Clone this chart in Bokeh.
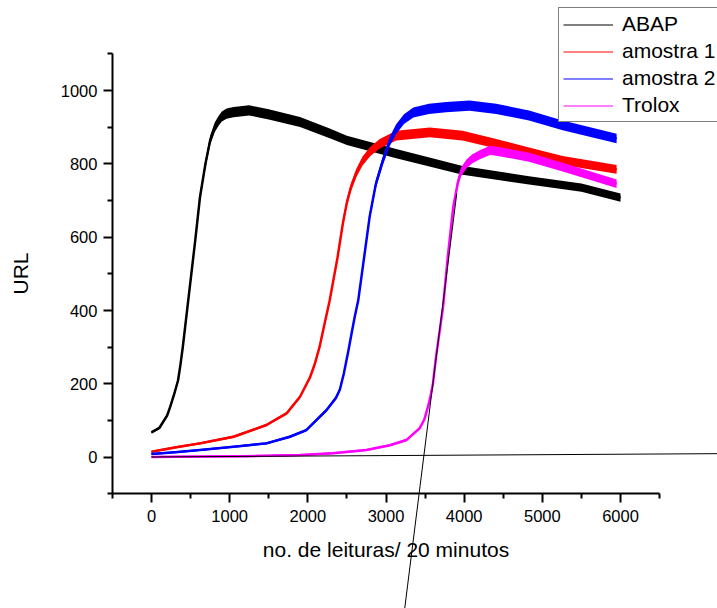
from bokeh.plotting import figure
from bokeh.models import ColumnDataSource, FixedTicker, Legend, LegendItem, Range1d
from bokeh.embed import file_html
from bokeh.resources import INLINE

# ---------------- data ----------------
abap_x = [0, 100, 200, 240, 290, 340, 370, 400, 470, 560, 620, 690, 750, 810, 860, 900, 960, 1050, 1250, 1500, 1900, 2280, 2500, 3130, 3980, 4830, 5500, 6000]
abap_y = [68, 80, 114, 138, 172, 210, 252, 300, 428, 592, 709, 800, 864, 900, 918, 929, 937, 941, 946, 935, 914, 883, 864, 828, 782, 755, 735, 708]

am1_x = [0, 300, 620, 1050, 1470, 1730, 1900, 2030, 2090, 2150, 2210, 2280, 2380, 2450, 2500, 2550, 2620, 2700, 2800, 2920, 3130, 3560, 3980, 4410, 4830, 5260, 5950]
am1_y = [15, 27, 38, 56, 88, 120, 165, 219, 255, 301, 360, 428, 545, 640, 695, 735, 775, 808, 834, 855, 877, 886, 877, 855, 832, 809, 785]

am2_x = [0, 300, 620, 1050, 1470, 1770, 1980, 2240, 2360, 2410, 2460, 2520, 2560, 2600, 2645, 2720, 2790, 2870, 2960, 3050, 3130, 3230, 3350, 3550, 3770, 4070, 4410, 4830, 5260, 5950]
am2_y = [9, 14, 20, 29, 38, 56, 74, 129, 162, 185, 228, 292, 338, 383, 428, 545, 655, 745, 809, 862, 895, 922, 940, 950, 955, 959, 950, 932, 905, 869]

trolox_x = [0, 600, 1200, 1900, 2320, 2750, 3050, 3260, 3430, 3490, 3540, 3570, 3600, 3640, 3730, 3790, 3860, 3920, 3960, 4030, 4100, 4200, 4330, 4410, 4830, 5260, 5950]
trolox_y = [1, 2, 3, 6, 11, 20, 33, 47, 79, 103, 140, 168, 200, 274, 410, 546, 682, 750, 778, 800, 813, 825, 837, 835, 818, 791, 746]

# tangent lines drawn on the chart
base_x = [0, 7300]
base_y = [1, 10]
tangent_x = [3240, 3905]
tangent_y = [-411, 719]

series_names = ["ABAP", "amostra 1", "amostra 2", "Trolox"]
series_colors = ["#000000", "#ff0000", "#0000ff", "#ff00ff"]

x_major = [0, 1000, 2000, 3000, 4000, 5000, 6000]
x_minor = [-500, 500, 1500, 2500, 3500, 4500, 5500, 6500]
y_major = [0, 200, 400, 600, 800, 1000]
y_minor = [-100, 100, 300, 500, 700, 900, 1100]

# ---------------- figure ----------------
W, H = 717, 608
p = figure(width=W, height=H, output_backend="svg", toolbar_location=None,
           x_range=Range1d(-1931.8, 7240.9), y_range=Range1d(-412.2, 1245.4),
           min_border=0, min_border_left=0, min_border_right=0,
           min_border_top=0, min_border_bottom=0)
p.outline_line_color = None
p.grid.visible = False
p.background_fill_color = "white"
p.border_fill_color = "white"

FONT = "Liberation Sans"

xa = p.xaxis[0]
xa.fixed_location = -100
xa.bounds = (-500, 6500)
xa.ticker = FixedTicker(ticks=x_major, minor_ticks=x_minor)
ya = p.yaxis[0]
ya.fixed_location = -500
ya.bounds = (-100, 1100)
ya.ticker = FixedTicker(ticks=y_major, minor_ticks=y_minor)

for ax in (xa, ya):
    ax.axis_line_width = 2
    ax.axis_line_color = "black"
    ax.major_tick_line_width = 2
    ax.minor_tick_line_width = 2
    ax.major_tick_line_color = "black"
    ax.minor_tick_line_color = "black"
    ax.major_tick_out = 9
    ax.major_tick_in = 0
    ax.minor_tick_out = 5
    ax.minor_tick_in = 0
    ax.major_label_text_font = FONT
    ax.major_label_text_font_size = "16.5px"
    ax.major_label_text_color = "black"
    ax.axis_label_text_font = FONT
    ax.axis_label_text_font_size = "21px"
    ax.axis_label_text_font_style = "normal"
    ax.axis_label_text_color = "black"

xa.axis_label = "no. de leituras/ 20 minutos"
xa.major_label_standoff = 7
xa.axis_label_standoff = 13
ya.axis_label = "URL"
ya.major_label_standoff = 6
ya.axis_label_standoff = 26

# ---------------- curves ----------------
NOISE_MIN = 2.5
NOISE_FRAC = 0.012

data = [(abap_x, abap_y), (am1_x, am1_y), (am2_x, am2_y), (trolox_x, trolox_y)]
legend_items = []
for (xs, ys), name, col in zip(data, series_names, series_colors):
    amp = [NOISE_MIN + NOISE_FRAC * v for v in ys]
    src = ColumnDataSource(dict(x=xs, y=ys,
                                lo=[v - a for v, a in zip(ys, amp)],
                                hi=[v + a for v, a in zip(ys, amp)]))
    leg_r = p.line(x="x", y="y", source=src, line_color=col, line_width=1)
    p.varea(x="x", y1="lo", y2="hi", source=src, fill_color=col, fill_alpha=1.0)
    p.line(x="x", y="y", source=src, line_color=col, line_width=2.5,
           line_join="round")
    legend_items.append(LegendItem(label=name, renderers=[leg_r]))

p.line(x=base_x, y=base_y, line_color="black", line_width=1)
p.line(x=tangent_x, y=tangent_y, line_color="black", line_width=1)

legend = Legend(items=legend_items, location=(558, 486),
                label_text_font=FONT, label_text_font_size="21px",
                label_text_color="black",
                glyph_width=50, glyph_height=21, label_height=21,
                label_standoff=9, spacing=3, padding=4, margin=0,
                border_line_color="black", border_line_width=1,
                background_fill_color="white", background_fill_alpha=1.0)
p.add_layout(legend)

open("out.html", "w").write(file_html(p, INLINE))
